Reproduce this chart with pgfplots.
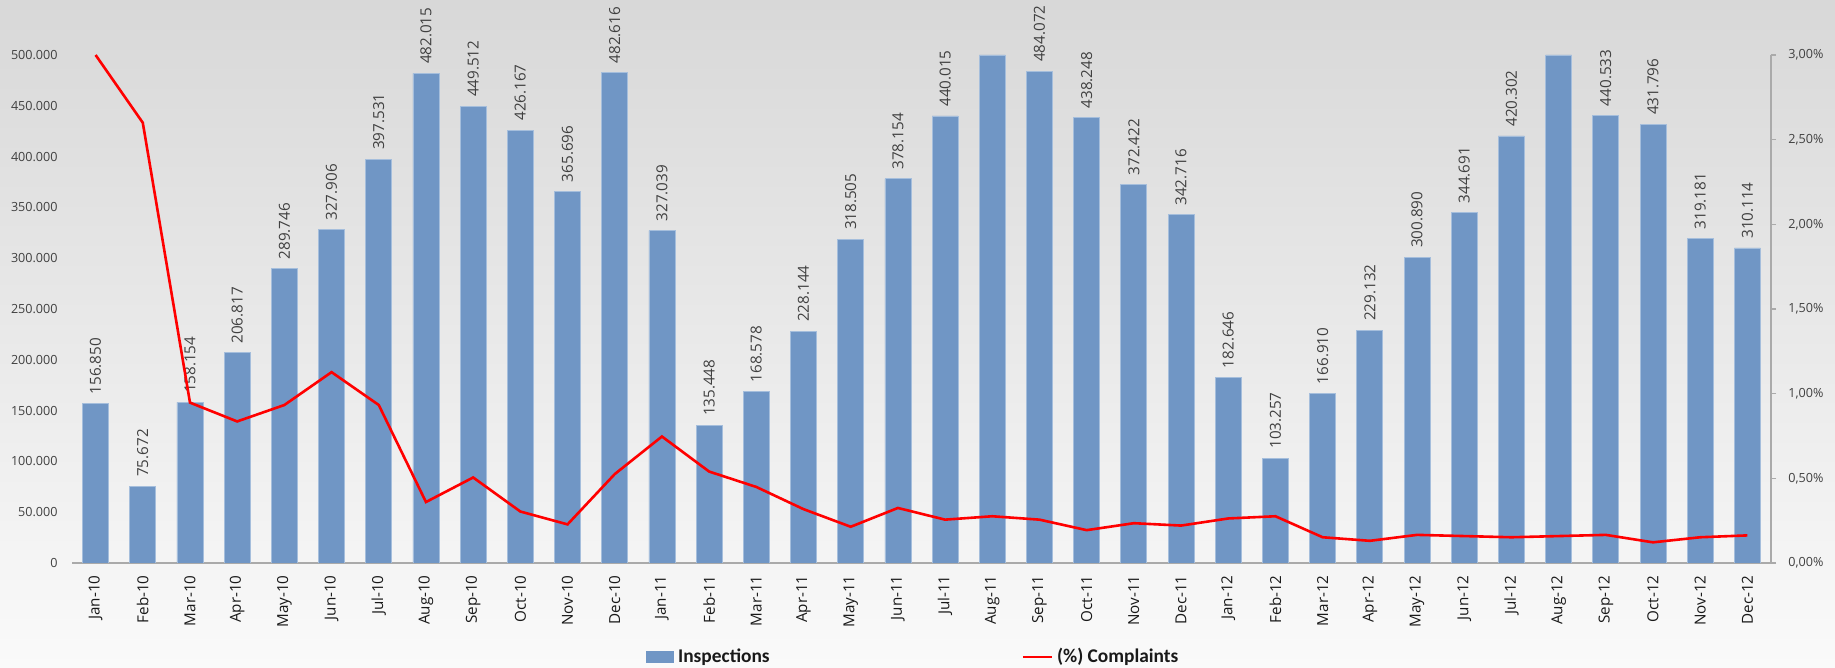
\documentclass[border=0pt]{standalone}
\usepackage{pgfplots}
\pgfplotsset{compat=1.18}
\usepackage{fontspec}
\setmainfont{Open Sans}
\newfontfamily\legfont{Carlito}
\definecolor{barblue}{RGB}{112,150,197}
\definecolor{baredge}{RGB}{165,190,220}
\definecolor{bgtop}{RGB}{216,216,216}
\definecolor{bgbot}{RGB}{250,250,250}
\definecolor{axgray}{RGB}{170,170,170}
\definecolor{lblgray}{RGB}{64,64,64}
\begin{document}
\begin{tikzpicture}
\shade[top color=bgtop, bottom color=bgbot] (0,0) rectangle (917.5pt,334pt);
\useasboundingbox (0,0) rectangle (917.5pt,334pt);
\begin{axis}[at={(36pt,52.5pt)}, anchor=south west, scale only axis,
  width=849.5pt, height=254pt,
  xmin=-0.5, xmax=35.5, ymin=0, ymax=500000,
  axis x line*=bottom, axis y line*=left,
  y axis line style={draw=none},
  x axis line style={draw=axgray, line width=0.6pt},
  major tick length=0pt,
  xtick={0,...,35},
  xticklabels={Jan-10,Feb-10,Mar-10,Apr-10,May-10,Jun-10,Jul-10,Aug-10,Sep-10,Oct-10,Nov-10,Dec-10,Jan-11,Feb-11,Mar-11,Apr-11,May-11,Jun-11,Jul-11,Aug-11,Sep-11,Oct-11,Nov-11,Dec-11,Jan-12,Feb-12,Mar-12,Apr-12,May-12,Jun-12,Jul-12,Aug-12,Sep-12,Oct-12,Nov-12,Dec-12},
  xticklabel style={rotate=90, anchor=east, font=\fontsize{7.6}{9}\selectfont, text=black!90, inner xsep=6pt, inner ysep=0pt},
  ytick={0,50000,100000,150000,200000,250000,300000,350000,400000,450000,500000},
  yticklabels={0,50.000,100.000,150.000,200.000,250.000,300.000,350.000,400.000,450.000,500.000},
  yticklabel style={font=\fontsize{6.3}{8}\selectfont, text=lblgray, inner sep=0pt, xshift=-7pt},
  scaled y ticks=false,
  ybar, bar width=13pt, bar shift=0pt,
  legend style={draw=none, fill=none, at={(0.3378,-0.185)}, anchor=west, legend columns=2,
    inner sep=0pt, nodes={inner sep=0pt},
    font=\legfont\bfseries\fontsize{9.7}{11}\selectfont, text=black!90,
    /tikz/every odd column/.append style={column sep=2pt},
    /tikz/every even column/.append style={column sep=126pt}},
]
\addplot[forget plot, fill=barblue, draw=baredge, line width=0.4pt,
  point meta=explicit symbolic,
  nodes near coords,
  every node near coord/.append style={rotate=90, anchor=west, font=\fontsize{7.6}{9}\selectfont, text=lblgray, inner xsep=4.5pt, inner ysep=0pt}]
coordinates {
(0,156850) [156.850] (1,75672) [75.672] (2,158154) [158.154] (3,206817) [206.817] (4,289746) [289.746] (5,327906) [327.906]
(6,397531) [397.531] (7,482015) [482.015] (8,449512) [449.512] (9,426167) [426.167] (10,365696) [365.696] (11,482616) [482.616]
(12,327039) [327.039] (13,135448) [135.448] (14,168578) [168.578] (15,228144) [228.144] (16,318505) [318.505] (17,378154) [378.154]
(18,440015) [440.015] (20,484072) [484.072] (21,438248) [438.248] (22,372422) [372.422] (23,342716) [342.716]
(24,182646) [182.646] (25,103257) [103.257] (26,166910) [166.910] (27,229132) [229.132] (28,300890) [300.890] (29,344691) [344.691]
(30,420302) [420.302] (32,440533) [440.533] (33,431796) [431.796] (34,319181) [319.181] (35,310114) [310.114]
};
\addplot[forget plot, fill=barblue, draw=baredge, line width=0.4pt] coordinates {(19,500000) (31,500000)};
\addlegendimage{legend image code/.code={\fill[barblue] (0pt,-2.9pt) rectangle (13.5pt,2.9pt);}}
\addlegendentry{Inspections}
\addlegendimage{legend image code/.code={\draw[red, line width=1.2pt] (0pt,0pt) -- (14.5pt,0pt);}}
\addlegendentry{(\%) Complaints}
\end{axis}
\begin{axis}[at={(36pt,52.5pt)}, anchor=south west, scale only axis,
  width=849.5pt, height=254pt,
  xmin=-0.5, xmax=35.5, ymin=0, ymax=3,
  axis x line=none, axis y line*=right,
  y axis line style={draw=axgray, line width=0.6pt},
  ytick={0,0.5,1,1.5,2,2.5,3},
  yticklabels={{0,00\%},{0,50\%},{1,00\%},{1,50\%},{2,00\%},{2,50\%},{3,00\%}},
  tick align=outside, major tick length=2.5pt,
  tick style={draw=axgray, line width=0.6pt},
  yticklabel style={font=\fontsize{6.3}{8}\selectfont, text=lblgray, inner sep=0pt, xshift=6pt},
]
\addplot[red, line width=1.3pt, mark=none] coordinates {
(0,3.00) (1,2.60) (2,0.947) (3,0.836) (4,0.933) (5,1.127) (6,0.933) (7,0.36) (8,0.505) (9,0.304) (10,0.228) (11,0.525)
(12,0.747) (13,0.54) (14,0.449) (15,0.318) (16,0.214) (17,0.325) (18,0.256) (19,0.276) (20,0.256) (21,0.194) (22,0.235) (23,0.221)
(24,0.263) (25,0.276) (26,0.152) (27,0.131) (28,0.166) (29,0.159) (30,0.152) (31,0.159) (32,0.166) (33,0.122) (34,0.152) (35,0.163)
};
\end{axis}
\end{tikzpicture}
\end{document}
